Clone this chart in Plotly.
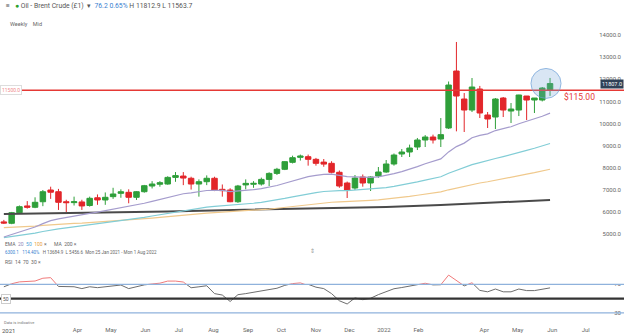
import pandas as pd
import plotly.graph_objects as go

# Weekly bars, Monday dates
weeks = pd.date_range("2021-01-25", periods=71, freq="7D")

opens = [5560, 5497, 5975, 6280, 6220, 6470, 7000, 6923, 6470, 6430,
         6460, 6300, 6650, 6550, 6700, 6850, 6895, 6670, 6923, 7180,
         7260, 7270, 7570, 7630, 7530, 7270, 7375, 7530, 7030, 7000,
         6470, 7230, 7260, 7270, 7480, 7750, 7935, 8250, 8475, 8505,
         8385, 8260, 8205, 7800, 7316, 7090, 7587, 7316, 7632, 7813,
         8174, 8626, 8716, 8942, 9258, 9393, 9303, 9800, 12373, 11109,
         10612, 11560, 10387, 10296, 11154, 10567, 10612, 11244, 11064, 11064,
         11520]
highs = [5650, 6010, 6300, 6500, 6670, 7000, 7150, 7050, 6560, 6700,
         6560, 6700, 6800, 6890, 7100, 7030, 7030, 6950, 7230, 7400,
         7400, 7620, 7810, 7810, 7600, 7480, 7660, 7600, 7250, 7080,
         7230, 7480, 7400, 7560, 7800, 8000, 8300, 8550, 8600, 8600,
         8450, 8400, 8300, 7880, 7380, 7677, 7700, 7620, 8039, 8355,
         8650, 8850, 9050, 9350, 9480, 9500, 10250, 11900, 13684.9, 11380,
         12057, 11700, 10522, 11154, 11200, 10928, 11300, 11244, 11154, 11651,
         12060]
lows = [5470, 5456.6, 5930, 6160, 6180, 6270, 6600, 6100, 6000, 6300,
        6100, 6250, 6330, 6330, 6600, 6650, 6400, 6550, 6880, 7070,
        7150, 7240, 7370, 7220, 7020, 6700, 7220, 6950, 6700, 6450,
        6420, 7030, 7100, 7200, 7180, 7680, 7900, 8200, 8330, 8100,
        8100, 8050, 7750, 7100, 6639, 7000, 7150, 6955, 7550, 7780,
        8100, 8490, 8490, 8806, 8942, 9100, 8942, 9754, 9650, 9619,
        10522, 10251, 9800, 9754, 10296, 10025, 10340, 10161, 10477, 11000,
        11250]
closes = [5507, 5975, 6246, 6220, 6445, 6923, 6900, 6445, 6430, 6470,
          6280, 6625, 6550, 6670, 6820, 6920, 6670, 6923, 7195, 7270,
          7330, 7570, 7650, 7540, 7270, 7375, 7530, 7000, 6970, 6470,
          7180, 7300, 7300, 7480, 7750, 7935, 8280, 8460, 8535, 8385,
          8205, 8170, 7800, 7180, 7000, 7542, 7316, 7587, 7813, 8174,
          8580, 8716, 8896, 9258, 9393, 9258, 9500, 11741, 11244, 10612,
          11651, 10477, 10206, 11109, 10612, 10657, 11290, 11064, 11154, 11606,
          11807]

# Moving averages
ema20 = [4880, 4984, 5104, 5210, 5328, 5480, 5615, 5694, 5764, 5831,
         5874, 5945, 6003, 6066, 6138, 6212, 6256, 6319, 6402, 6485,
         6565, 6661, 6755, 6830, 6872, 6920, 6978, 6980, 6979, 6931,
         6955, 6988, 7018, 7062, 7127, 7203, 7306, 7416, 7522, 7604,
         7661, 7709, 7718, 7667, 7603, 7597, 7570, 7572, 7595, 7650,
         7739, 7832, 7933, 8059, 8186, 8289, 8404, 8721, 8961, 9118,
         9359, 9465, 9536, 9685, 9773, 9857, 9993, 10095, 10196, 10330,
         10471]
ema50 = [4850, 4894, 4947, 4997, 5054, 5127, 5197, 5246, 5292, 5338,
         5375, 5424, 5468, 5515, 5566, 5619, 5660, 5710, 5768, 5827,
         5886, 5952, 6019, 6079, 6126, 6175, 6228, 6258, 6286, 6293,
         6328, 6366, 6403, 6445, 6496, 6552, 6620, 6692, 6764, 6828,
         6882, 6932, 6966, 6974, 6975, 6997, 7010, 7033, 7064, 7108,
         7166, 7227, 7292, 7369, 7448, 7519, 7597, 7759, 7896, 8002,
         8145, 8236, 8313, 8423, 8509, 8593, 8699, 8792, 8885, 8992,
         9102]
ema100 = [5300, 5313, 5331, 5349, 5371, 5402, 5432, 5452, 5471, 5491,
          5507, 5529, 5549, 5571, 5596, 5622, 5643, 5668, 5698, 5729,
          5761, 5797, 5834, 5868, 5896, 5925, 5957, 5978, 5998, 6007,
          6030, 6055, 6080, 6108, 6141, 6177, 6219, 6263, 6308, 6349,
          6386, 6421, 6448, 6462, 6473, 6494, 6510, 6531, 6556, 6588,
          6627, 6668, 6712, 6762, 6814, 6862, 6914, 7010, 7094, 7164,
          7253, 7317, 7374, 7448, 7511, 7573, 7647, 7715, 7783, 7859,
          7937]
ma200_weeks = [0, 7, 14, 21, 28, 35, 42, 49, 56, 63, 70]
ma200 = [5916, 5950, 5990, 6035, 6090, 6130, 6180, 6230, 6320, 6430, 6550]

rsi14 = [66.5, 70.8, 73.4, 74.3, 74.6, 78.5, 79.3, 67.0, 66.6, 66.6,
         64.0, 66.6, 65.3, 66.5, 68.0, 69.0, 64.0, 66.5, 69.2, 70.5,
         71.6, 74.5, 74.5, 73.2, 65.2, 66.5, 68.0, 57.0, 55.0, 46.0,
         55.5, 57.0, 58.8, 61.0, 63.0, 64.5, 68.5, 71.0, 72.0, 70.0,
         66.0, 64.0, 57.0, 47.0, 42.5, 51.0, 48.5, 50.5, 55.6, 59.5,
         63.8, 65.5, 67.4, 69.0, 71.5, 69.2, 69.4, 82.9, 75.0, 67.8,
         72.2, 61.5, 59.5, 63.4, 59.5, 59.5, 63.4, 61.2, 61.2, 63.0,
         65.0]

price_ticks = [5000, 6000, 7000, 8000, 9000, 10000, 11000, 12000, 13000, 14000]
resistance = 11500
last_price = 11807.0

month_ticks = ["2021-04-01", "2021-05-01", "2021-06-01", "2021-07-01", "2021-08-01",
               "2021-09-01", "2021-10-01", "2021-11-01", "2021-12-01", "2022-01-01",
               "2022-02-01", "2022-04-01", "2022-05-01", "2022-06-01", "2022-07-01",
               "2022-08-01"]
month_text = ["Apr", "May", "Jun", "Jul", "Aug", "Sep", "Oct", "Nov", "Dec", "2022",
              "Feb", "Apr", "May", "Jun", "Jul", "Aug"]

FONT = "Roboto"
GREEN = "#2f9f3a"
RED = "#e2262a"

x_range = ["2021-01-21 13:12", "2022-08-04 08:24"]
H = 336.0


def py(pix):
    return 1 - pix / H


main_dom = [py(248), py(30)]
rsi_dom = [py(318), py(268)]
main_rng = [4381, 14226]
rsi_rng = [22.9, 92.8]
# upper band of the RSI panel (values above 70), same scale as yaxis2
frac70 = (70 - rsi_rng[0]) / (rsi_rng[1] - rsi_rng[0])
rsi_hi_dom = [rsi_dom[0] + frac70 * (rsi_dom[1] - rsi_dom[0]), rsi_dom[1]]

fig = go.Figure()

fig.add_trace(go.Scatter(x=weeks[ma200_weeks], y=ma200, mode="lines",
                         line=dict(color="#4a4a4a", width=2), xaxis="x", yaxis="y"))
fig.add_trace(go.Scatter(x=weeks, y=ema100, mode="lines",
                         line=dict(color="#f0c98c", width=1.2), xaxis="x", yaxis="y"))
fig.add_trace(go.Scatter(x=weeks, y=ema50, mode="lines",
                         line=dict(color="#82cdd6", width=1.2), xaxis="x", yaxis="y"))
fig.add_trace(go.Scatter(x=weeks, y=ema20, mode="lines",
                         line=dict(color="#a59ccd", width=1.2), xaxis="x", yaxis="y"))

fig.add_trace(go.Candlestick(
    x=weeks, open=opens, high=highs, low=lows, close=closes,
    increasing=dict(line=dict(color=GREEN, width=1), fillcolor=GREEN),
    decreasing=dict(line=dict(color=RED, width=1), fillcolor=RED),
    whiskerwidth=0, xaxis="x", yaxis="y"))

# RSI: grey line, red where it sits above 70 (clipped by the upper-band axis)
fig.add_trace(go.Scatter(x=weeks, y=rsi14, mode="lines",
                         line=dict(color="#6e6e6e", width=1), xaxis="x2", yaxis="y2"))
fig.add_trace(go.Scatter(x=weeks, y=rsi14, mode="lines",
                         line=dict(color="#f07a7a", width=1), xaxis="x2", yaxis="y3"))

shapes = [
    dict(type="line", xref="paper", x0=0, x1=1, yref="y", y0=resistance, y1=resistance,
         line=dict(color="#e53935", width=1.5)),
    dict(type="circle", xref="x", yref="y",
         x0="2022-05-12 21:00", x1="2022-06-08 21:00", y0=11136, y1=12490,
         fillcolor="rgba(120,165,215,0.28)", line=dict(color="rgba(110,160,215,0.7)", width=1)),
    dict(type="line", xref="paper", x0=0, x1=1, yref="y2", y0=70, y1=70,
         line=dict(color="#8fb2dc", width=1.3)),
    dict(type="line", xref="paper", x0=0, x1=1, yref="y2", y0=30, y1=30,
         line=dict(color="#8fb2dc", width=1.3)),
    dict(type="line", xref="paper", x0=0, x1=1, yref="y2", y0=50, y1=50,
         line=dict(color="#333333", width=2.2)),
]

small = dict(family=FONT, size=6, color="#666")
NB = "\u00a0"
annotations = [
    dict(xref="paper", yref="paper", x=0.006, y=py(6), xanchor="left", yanchor="middle",
         showarrow=False, font=dict(family=FONT, size=6.8, color="#555"),
         text=("≡" + NB * 3 + "<span style='color:#2aa12a'>●</span>" + NB +
               "Oil - Brent Crude (£1)" + NB * 2 + "▾" + NB * 2 +
               "<span style='color:#3a7fd0'>76.2" + NB + "0.65%</span>" + NB +
               "H 11812.9" + NB + "L 11563.7")),
    dict(xref="paper", yref="paper", x=0.013, y=py(24), xanchor="left", yanchor="middle",
         showarrow=False, font=dict(family=FONT, size=5.5, color="#666"),
         text="Weekly" + NB * 4 + "Mid"),
    dict(xref="paper", yref="paper", x=0.005, y=py(244), xanchor="left", yanchor="middle",
         showarrow=False, font=dict(family=FONT, size=5, color="#666"),
         text=("EMA" + NB * 2 + "<span style='color:#8f88b8'>20</span>" + NB * 2 +
               "<span style='color:#4aa0d8'>50</span>" + NB * 2 +
               "<span style='color:#e8a040'>100</span>" + NB + "×" + NB * 6 +
               "MA" + NB * 2 + "200" + NB + "×")),
    dict(xref="paper", yref="paper", x=0.005, y=py(252), xanchor="left", yanchor="middle",
         showarrow=False, font=dict(family=FONT, size=4.5, color="#666"),
         text=("<span style='color:#3a7fd0'>6300.1" + NB * 3 + "114.40%</span>" + NB * 3 +
               "H 13684.9" + NB * 2 + "L 5456.6" + NB * 2 +
               "Mon 25 Jan 2021 - Mon 1 Aug 2022")),
    dict(xref="paper", yref="paper", x=0.005, y=py(262), xanchor="left", yanchor="middle",
         showarrow=False, font=dict(family=FONT, size=5, color="#666"),
         text="RSI" + NB * 2 + "14" + NB * 2 + "70" + NB * 2 + "30" + NB + "×"),
    dict(xref="paper", yref="paper", x=0.5, y=py(250), xanchor="center", yanchor="middle",
         showarrow=False, font=dict(family=FONT, size=6, color="#999"), text="⇕"),
    dict(xref="paper", yref="paper", x=0.003, y=py(322), xanchor="left", yanchor="middle",
         showarrow=False, font=dict(family=FONT, size=4, color="#777"),
         text="Data is indicative"),
    dict(xref="paper", yref="paper", x=0.0, y=py(330), xanchor="left", yanchor="middle",
         showarrow=False, font=dict(family=FONT, size=6, color="#555"), text="2021"),
    # resistance label and price callouts
    dict(xref="paper", yref="y", x=0.0, y=resistance, xanchor="left", yanchor="middle",
         showarrow=False, font=dict(family=FONT, size=5, color="#f08c8c"),
         text=f"{resistance:.1f}", bgcolor="white", bordercolor="#dddddd",
         borderwidth=1, borderpad=1),
    dict(xref="paper", yref="y", x=0.9, y=resistance, xanchor="left", yanchor="top",
         yshift=0, showarrow=False, font=dict(family=FONT, size=8.5, color="#e53935"),
         text=f"${resistance / 100:.2f}"),
    dict(xref="paper", yref="y", x=1.0, y=last_price, xanchor="right", yanchor="middle",
         showarrow=False, font=dict(family=FONT, size=5.5, color="white"),
         text=f"{last_price:.1f}", bgcolor="#2f4156", borderpad=1),
    dict(xref="paper", yref="y2", x=0.002, y=50, xanchor="left", yanchor="middle",
         showarrow=False, font=dict(family=FONT, size=5, color="#555"),
         text="50", bgcolor="white", bordercolor="#cccccc", borderwidth=1, borderpad=1),
]

fig.update_layout(
    width=624, height=336,
    margin=dict(l=0, r=0, t=0, b=0),
    paper_bgcolor="white", plot_bgcolor="white",
    showlegend=False,
    boxgap=0.1, boxgroupgap=0.22,
    shapes=shapes,
    annotations=annotations,
    xaxis=dict(domain=[0, 1], range=x_range, type="date", anchor="y",
               showticklabels=False, showgrid=False, zeroline=False, showline=False,
               rangeslider=dict(visible=False)),
    yaxis=dict(domain=main_dom, range=main_rng, anchor="x", side="right",
               ticklabelposition="inside", tickvals=price_ticks, tickformat=".1f",
               tickfont=small, showgrid=False, zeroline=False, showline=False, ticks=""),
    xaxis2=dict(domain=[0, 1], range=x_range, type="date", matches="x",
                anchor="free", position=py(325), tickvals=month_ticks, ticktext=month_text,
                tickfont=small, showgrid=False, zeroline=False, showline=False, ticks=""),
    yaxis2=dict(domain=rsi_dom, range=rsi_rng, anchor="x2", side="right",
                ticklabelposition="inside", tickvals=[30, 70], tickfont=small,
                showgrid=False, zeroline=False, showline=False, ticks=""),
    yaxis3=dict(domain=rsi_hi_dom, range=[70, rsi_rng[1]], anchor="x2", visible=False,
                showgrid=False, zeroline=False),
)

fig.write_html("out.html")
